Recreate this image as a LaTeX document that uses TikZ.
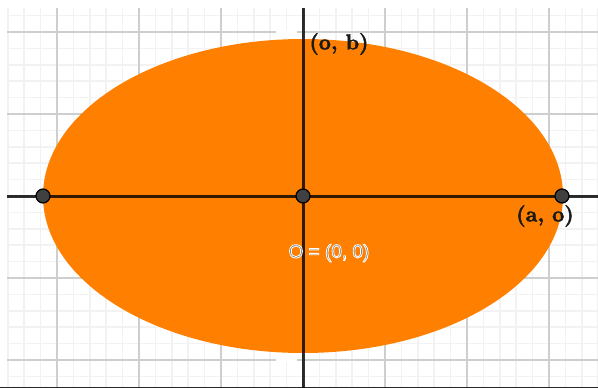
\documentclass[tikz,border=0pt]{standalone}
\usepackage{fontspec}
\newfontfamily\labsans{Liberation Sans}
\definecolor{orng}{RGB}{255,128,0}
\definecolor{minorg}{RGB}{242,242,242}
\definecolor{majorg}{RGB}{206,206,206}
\definecolor{ptfill}{RGB}{64,64,64}
\definecolor{halotext}{RGB}{115,115,115}
\tikzset{
  minorline/.style={minorg, line width=1.5pt},
  majorline/.style={majorg, line width=2pt},
  axisline/.style={black, opacity=0.8, line width=3pt},
  ptdot/.style={circle, fill=ptfill, draw=black, line width=1.2pt, minimum size=14pt, inner sep=0pt},
  boldlab/.style={font=\fontsize{21.5}{24}\selectfont\bfseries, text=black!90, inner sep=0pt},
  halolab/.style={font=\labsans\fontsize{19}{21}\selectfont, text=halotext, inner sep=0pt},
}
\newcommand{\heavy}[1]{\special{pdf:code q 0.1 0.1 0.1 RG 0.45 w 2 Tr}#1\special{pdf:code Q}}
\newcommand{\halo}[1]{\special{pdf:code q 1 1 1 RG 0.8 w 2 Tr}#1\special{pdf:code Q}}
\begin{document}
\begin{tikzpicture}[x=1pt, y=-1pt]
\useasboundingbox (0,0) rectangle (598,388);
\fill[white] (0,0) rectangle (598,388);
% grid
\begin{scope}
\clip (7,8) rectangle (598,387);
\foreach \k in {-18,...,18} {
  \draw[minorline] ({303+\k*16.4},0) -- ({303+\k*16.4},388);
}
\foreach \k in {-12,...,12} {
  \draw[minorline] (0,{196+\k*16.4}) -- (598,{196+\k*16.4});
}
\foreach \k in {-3,...,3} {
  \draw[majorline] ({303+\k*82},0) -- ({303+\k*82},388);
}
\foreach \k in {-2,...,2} {
  \draw[majorline] (0,{196+\k*82}) -- (598,{196+\k*82});
}
\end{scope}
\draw[black!85, line width=1.5pt] (0,387.5) -- (598,387.5);
% ellipse
\fill[orng] (303,196) ellipse [x radius=260, y radius=157];
% white patches
\fill[white] (276,30) rectangle (297,38);
\fill[white] (276,353) rectangle (297,362);
% axes
\coordinate (xl) at (7,196);
\coordinate (xr) at (598,196);
\coordinate (yt) at (303,8);
\coordinate (yb) at (303,388);
\draw[axisline] (xl) -- (xr);
\draw[axisline] (yt) -- (yb);
% points
\node[ptdot] (L) at (43,196) {};
\node[ptdot] (C) at (303,196) {};
\node[ptdot] (R) at (562,196) {};
% labels
\node[boldlab] (ob) at (339,44) {\heavy{(o, b)}};
\node[boldlab] (ao) at (545,216) {\heavy{(a, o)}};
\node[halolab] (org) at (329,253) {\halo{O = (0, 0)}};
\end{tikzpicture}
\end{document}
